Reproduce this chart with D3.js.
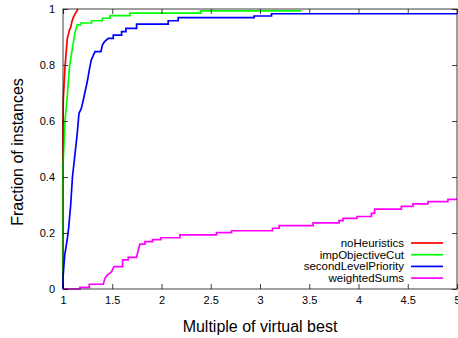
<!DOCTYPE html>
<html>
<head>
<meta charset="utf-8">
<script src="https://cdn.jsdelivr.net/npm/d3@7"></script>
<style>
  body { margin: 0; background: #fff; }
  svg { display: block; font-family: "Liberation Sans", Arial, Helvetica, sans-serif; }
</style>
</head>
<body>
<div id="chart"></div>
<script>
// series (x = multiple of virtual best, y = fraction)
var seriesNames = ["noHeuristics", "impObjectiveCut", "secondLevelPriority", "weightedSums"];
var seriesColors = ["#ff0000", "#00ff00", "#0000ff", "#ff00ff"];

var noHeuristicsX = [1, 1, 1.003, 1.02, 1.03, 1.044, 1.065, 1.08, 1.09, 1.105, 1.118, 1.135, 1.152];
var noHeuristicsY = [0, 0.6, 0.675, 0.79, 0.836, 0.895, 0.925, 0.937, 0.955, 0.97, 0.979, 0.99, 1.0];

var impObjectiveCutX = [1, 1, 1.003, 1.02, 1.04, 1.066, 1.093, 1.12, 1.144, 1.178, 1.178, 1.29, 1.29, 1.40, 1.40, 1.477, 1.477, 1.68, 1.68, 2.40, 2.40, 3.42];
var impObjectiveCutY = [0, 0.44, 0.46, 0.6, 0.675, 0.794, 0.854, 0.913, 0.943, 0.943, 0.95, 0.95, 0.958, 0.958, 0.967, 0.967, 0.976, 0.976, 0.985, 0.985, 0.993, 0.993];

var secondLevelPriorityX = [1, 1, 1.017, 1.044, 1.058, 1.078, 1.096, 1.118, 1.145, 1.162, 1.186, 1.206, 1.246, 1.27, 1.287, 1.325, 1.385, 1.40, 1.42, 1.459, 1.51, 1.51, 1.595, 1.595, 1.639, 1.639, 1.747, 1.747, 2.068, 2.068, 2.169, 2.169, 2.94, 2.94, 3.117, 3.117, 5];
var secondLevelPriorityY = [0, 0.04, 0.12, 0.18, 0.22, 0.30, 0.40, 0.47, 0.557, 0.627, 0.645, 0.675, 0.74, 0.788, 0.818, 0.848, 0.848, 0.871, 0.883, 0.895, 0.895, 0.907, 0.907, 0.919, 0.919, 0.931, 0.931, 0.946, 0.946, 0.958, 0.958, 0.969, 0.969, 0.975, 0.975, 0.983, 0.983];

var weightedSumsX = [1, 1.172, 1.172, 1.267, 1.267, 1.409, 1.426, 1.449, 1.494, 1.517, 1.605, 1.605, 1.662, 1.662, 1.747, 1.764, 1.781, 1.832, 1.832, 1.91, 1.91, 1.994, 1.994, 2.187, 2.187, 2.559, 2.559, 2.711, 2.711, 3.127, 3.127, 3.194, 3.194, 3.539, 3.539, 3.802, 3.802, 3.843, 3.843, 3.985, 3.985, 4.131, 4.131, 4.164, 4.164, 4.435, 4.435, 4.553, 4.553, 4.705, 4.705, 4.908, 4.908, 5];
var weightedSumsY = [0, 0, 0.006, 0.006, 0.017, 0.017, 0.038, 0.05, 0.062, 0.08, 0.08, 0.104, 0.104, 0.113, 0.113, 0.139, 0.16, 0.16, 0.169, 0.169, 0.176, 0.176, 0.183, 0.183, 0.193, 0.193, 0.201, 0.201, 0.208, 0.208, 0.217, 0.217, 0.226, 0.226, 0.236, 0.236, 0.244, 0.244, 0.252, 0.252, 0.259, 0.259, 0.27, 0.27, 0.285, 0.285, 0.295, 0.295, 0.304, 0.304, 0.312, 0.312, 0.32, 0.32];

var xTicks = [1, 1.5, 2, 2.5, 3, 3.5, 4, 4.5, 5];
var yTicks = [0, 0.2, 0.4, 0.6, 0.8, 1];

var xTitle = "Multiple of virtual best";
var yTitle = "Fraction of instances";

// set the dimensions of the graph
var W = 458, H = 338;
var margin = { top: 9, right: 1, bottom: 49, left: 63 };

var x = d3.scaleLinear().domain([1, 5]).range([margin.left, W - margin.right]);
var y = d3.scaleLinear().domain([0, 1]).range([H - margin.bottom, margin.top]);

var svg = d3.select("#chart")
  .append("svg")
  .attr("width", W)
  .attr("height", H);

svg.append("rect").attr("width", W).attr("height", H).attr("fill", "#fff");

var seriesData = [
  d3.zip(noHeuristicsX, noHeuristicsY),
  d3.zip(impObjectiveCutX, impObjectiveCutY),
  d3.zip(secondLevelPriorityX, secondLevelPriorityY),
  d3.zip(weightedSumsX, weightedSumsY)
];

var line = d3.line()
  .x(function (d) { return x(d[0]); })
  .y(function (d) { return y(d[1]); });

// the curves
seriesData.forEach(function (data, i) {
  svg.append("path")
    .datum(data)
    .attr("class", "line")
    .attr("d", line)
    .attr("fill", "none")
    .attr("stroke", seriesColors[i])
    .attr("stroke-width", 1.7)
    .attr("stroke-linejoin", "miter");
});

var fmt = d3.format("~g");
var tick = 5;

// bottom axis
var gx = svg.append("g")
  .attr("transform", "translate(0," + y(0) + ")")
  .call(d3.axisBottom(x).tickValues(xTicks).tickFormat(fmt).tickSize(-tick).tickPadding(7));
// left axis
var gy = svg.append("g")
  .attr("transform", "translate(" + x(1) + ",0)")
  .call(d3.axisLeft(y).tickValues(yTicks).tickFormat(fmt).tickSize(-tick).tickPadding(8));
// mirrored ticks
var gt = svg.append("g")
  .attr("transform", "translate(0," + y(1) + ")")
  .call(d3.axisTop(x).tickValues(xTicks).tickFormat("").tickSize(-tick));
var gr = svg.append("g")
  .attr("transform", "translate(" + x(5) + ",0)")
  .call(d3.axisRight(y).tickValues(yTicks).tickFormat("").tickSize(-tick));

[gx, gy, gt, gr].forEach(function (g) {
  g.select(".domain").remove();
  g.selectAll(".tick line").attr("stroke", "#000").attr("stroke-opacity", 0.75);
  g.selectAll(".tick text").attr("fill", "#000").attr("font-size", 11)
    .attr("font-family", "'Liberation Sans', Arial, sans-serif");
});

// border
svg.append("rect")
  .attr("x", x(1))
  .attr("y", y(1))
  .attr("width", x(5) - x(1))
  .attr("height", y(0) - y(1))
  .attr("fill", "none")
  .attr("stroke", "#000")
  .attr("stroke-opacity", 0.75)
  .attr("stroke-width", 1);

// axis titles
svg.append("text")
  .attr("x", (x(1) + x(5)) / 2)
  .attr("y", 332)
  .attr("text-anchor", "middle")
  .attr("font-size", 16)
  .text(xTitle);

svg.append("text")
  .attr("transform", "translate(23," + 152 + ") rotate(-90)")
  .attr("text-anchor", "middle")
  .attr("font-size", 16)
  .text(yTitle);

// legend
var legend = svg.append("g").attr("transform", "translate(0,243)");
seriesNames.forEach(function (name, i) {
  var row = legend.append("g").attr("transform", "translate(0," + (i * 11.7) + ")");
  row.append("text")
    .attr("x", 404)
    .attr("y", 4)
    .attr("text-anchor", "end")
    .attr("font-size", 11.5)
    .text(name);
  row.append("line")
    .attr("x1", 411).attr("x2", 443)
    .attr("y1", 0).attr("y2", 0)
    .attr("stroke", seriesColors[i])
    .attr("stroke-width", 1.7);
});
</script>
</body>
</html>
